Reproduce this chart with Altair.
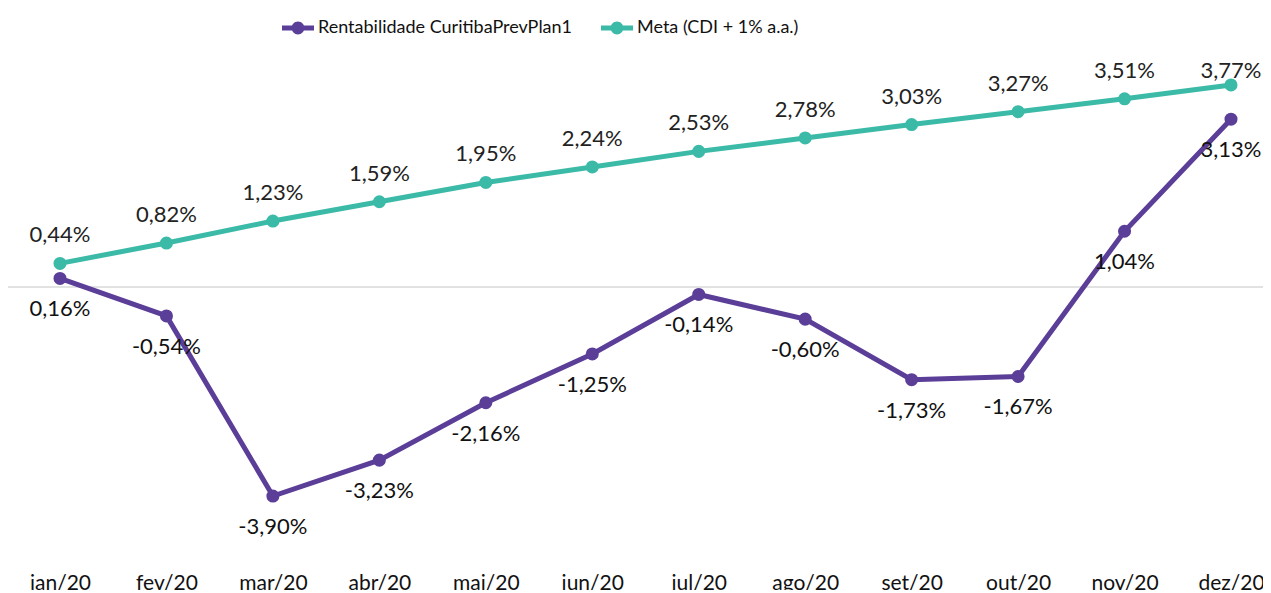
import altair as alt
import pandas as pd

months = ["jan/20", "fev/20", "mar/20", "abr/20", "mai/20", "jun/20",
          "jul/20", "ago/20", "set/20", "out/20", "nov/20", "dez/20"]
rentab = [0.16, -0.54, -3.90, -3.23, -2.16, -1.25, -0.14, -0.60, -1.73, -1.67, 1.04, 3.13]
meta = [0.44, 0.82, 1.23, 1.59, 1.95, 2.24, 2.53, 2.78, 3.03, 3.27, 3.51, 3.77]
series_names = ["Rentabilidade CuritibaPrevPlan1", "Meta (CDI + 1% a.a.)"]
colors = ["#5B3E98", "#3CBAA8"]

rows = []
for m, r, t in zip(months, rentab, meta):
    rows.append({"mes": m, "serie": series_names[0], "v": r})
    rows.append({"mes": m, "serie": series_names[1], "v": t})
df = pd.DataFrame(rows)

FONT = "Lato"
W, H = 1255, 560
YDOM = [-5.243, 5.205]

x = alt.X("mes:N", sort=months, title=None,
          scale=alt.Scale(type="point", range=[52, 1223], padding=0),
          axis=alt.Axis(domain=False, ticks=False, labelAngle=0, labelFontSize=21,
                        labelFont=FONT, labelColor="#111111", labelPadding=4, grid=False))
y = alt.Y("v:Q", title=None, scale=alt.Scale(domain=YDOM, nice=False, zero=False),
          axis=None)
color_scale = alt.Scale(domain=series_names, range=colors)

legend_path = ("M-1,-0.16L1,-0.16L1,0.16L-1,0.16Z "
               "M-0.4,0A0.4,0.4,0,1,1,0.4,0A0.4,0.4,0,1,1,-0.4,0Z")
legend = alt.Legend(orient="none", legendX=274, legendY=4,
                    direction="horizontal", symbolType=legend_path,
                    symbolSize=1024, symbolStrokeWidth=0,
                    labelFontSize=18, labelFont=FONT, labelLimit=500,
                    labelColor="#111111", columnPadding=28,
                    labelOffset=4, symbolOpacity=1, title=None)
color = alt.Color("serie:N", scale=color_scale, sort=series_names, title=None, legend=legend)

base = alt.Chart(df).transform_calculate(
    lbl="(datum.v < 0 ? '-' : '') + replace(format(abs(datum.v), '.2f'), '.', ',') + '%'"
)

zero = alt.Chart(pd.DataFrame({"z": [0]})).mark_rule(color="#d9d9d9", strokeWidth=1.5).encode(
    y=alt.Y("z:Q", scale=alt.Scale(domain=YDOM, nice=False, zero=False), axis=None),
    x=alt.value(0), x2=alt.value(1263))

lines = base.mark_line(strokeWidth=5).encode(x=x, y=y, color=color, detail="serie:N")

points = base.mark_point(filled=True, size=170, opacity=1).encode(x=x, y=y, color=color)

meta_lbl = base.transform_filter(
    (alt.datum.serie == series_names[1]) & (alt.datum.mes != "dez/20")
).mark_text(dy=-28, fontSize=22, font=FONT, color="#222222", baseline="middle").encode(
    x=x, y=y, text="lbl:N")
meta_last = base.transform_filter(
    (alt.datum.serie == series_names[1]) & (alt.datum.mes == "dez/20")
).mark_text(dy=-14, fontSize=22, font=FONT, color="#222222", baseline="middle").encode(
    x=x, y=y, text="lbl:N")
rent_lbl = base.transform_filter(alt.datum.serie == series_names[0]).mark_text(
    dy=31, fontSize=22, font=FONT, color="#111111", baseline="middle").encode(
    x=x, y=y, text="lbl:N")

chart = alt.layer(zero, lines, points, meta_lbl, meta_last, rent_lbl).properties(
    width=W, height=H, autosize=alt.AutoSizeParams(type="none"),
    padding={"left": 0, "top": 0, "right": 0, "bottom": 22}
).configure(background="white").configure_view(stroke=None)

chart.save("out.html", embed_options={"renderer": "svg", "actions": False})
